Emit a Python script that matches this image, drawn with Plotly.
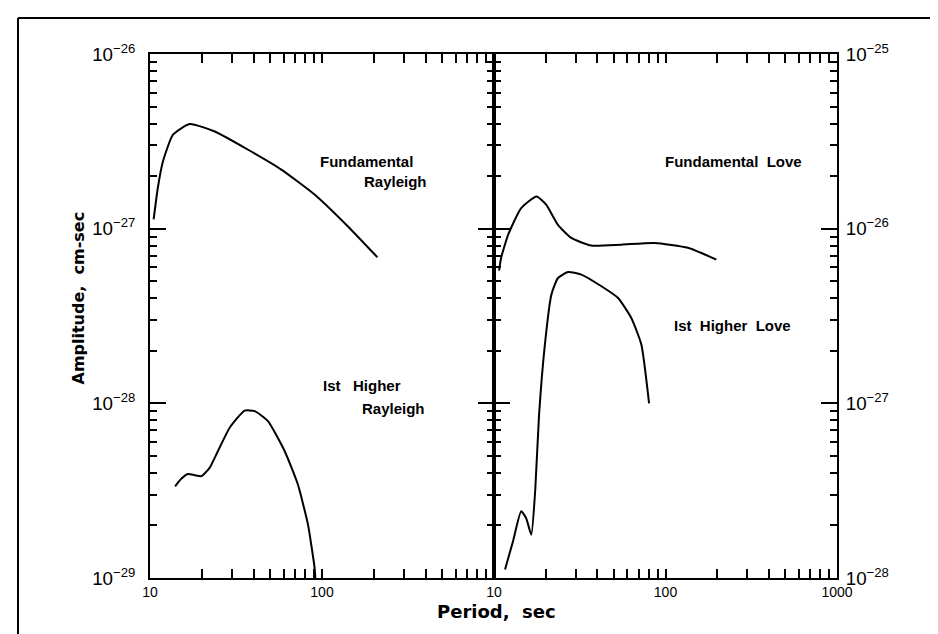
import plotly.graph_objects as go

# ---- data (period in sec, amplitude in cm-sec) ----
fr_period = [10.5, 11.1, 11.9, 13.6, 17.0, 23.8, 37.2, 58, 90.5, 141.6, 210]
fr_amp = [1.13e-27, 1.71e-27, 2.43e-27, 3.45e-27, 3.97e-27, 3.6e-27, 2.83e-27,
          2.18e-27, 1.57e-27, 1.03e-27, 6.86e-28]

hr_period = [14.0, 15.2, 16.6, 18.2, 19.9, 22.2, 24.8, 29.0, 35.5, 40.6, 48.5,
             60.7, 72.4, 82.9, 90.6, 91.5]
hr_amp = [3.35e-29, 3.7e-29, 3.94e-29, 3.88e-29, 3.83e-29, 4.27e-29, 5.32e-29,
          7.23e-29, 9.08e-29, 9.02e-29, 7.9e-29, 5.32e-29, 3.43e-29, 2.02e-29,
          1.14e-29, 1.0e-29]

fl_period = [10.7, 11.0, 12.1, 14.4, 17.7, 20.2, 23.6, 28.2, 36.9, 55.2, 86.4,
             135, 198]
fl_amp = [5.75e-27, 6.8e-27, 9.25e-27, 1.31e-26, 1.53e-26, 1.37e-26, 1.05e-26,
          8.85e-27, 8.0e-27, 8.1e-27, 8.28e-27, 7.77e-27, 6.65e-27]

hl_period = [11.6, 12.9, 14.4, 15.4, 16.5, 17.4, 18.3, 19.8, 21.6, 23.6,
             27.0, 32.3, 42.3, 52.9, 63.2, 72.3, 80.2]
hl_amp = [1.12e-28, 1.62e-28, 2.41e-28, 2.2e-28, 1.77e-28, 3.2e-28, 8.5e-28,
          2.17e-27, 4.19e-27, 5.22e-27, 5.65e-27, 5.46e-27, 4.68e-27,
          4.01e-27, 3.08e-27, 2.17e-27, 1.0e-27]

# x ticks: every 1..9 x decade; only decades are labelled
x_tick_vals = [10, 20, 30, 40, 50, 60, 70, 80, 90,
               100, 200, 300, 400, 500, 600, 700, 800, 900, 1000]
x_tick_text_left = ["10", "", "", "", "", "", "", "", "",
                    "100", "", "", "", "", "", "", "", "", ""]
x_tick_text_right = ["10", "", "", "", "", "", "", "", "",
                     "100", "", "", "", "", "", "", "", "", "1000"]

# ---- figure ----
OFF = 0
W, H = 938, 634
# plot-area edges in page pixels
L, R, T, B = 142, 829, 46, 570
split = 486
fig = go.Figure()

line = dict(color="black", width=2, shape="spline", smoothing=0.5)
fig.add_trace(go.Scatter(x=fr_period, y=fr_amp, mode="lines", line=line,
                         xaxis="x", yaxis="y", showlegend=False))
fig.add_trace(go.Scatter(x=hr_period, y=hr_amp, mode="lines", line=line,
                         xaxis="x", yaxis="y", showlegend=False))
fig.add_trace(go.Scatter(x=fl_period, y=fl_amp, mode="lines", line=line,
                         xaxis="x2", yaxis="y2", showlegend=False))
fig.add_trace(go.Scatter(x=hl_period, y=hl_amp, mode="lines", line=line,
                         xaxis="x2", yaxis="y2", showlegend=False))

d = (split - L) / (R - L)
tickfont = dict(family="Liberation Sans", size=14, color="black")
xcommon = dict(type="log", range=[1, 3], tickmode="array", tickvals=x_tick_vals,
               ticks="inside", ticklen=9, tickwidth=2, tickcolor="black",
               showline=True, linecolor="black", linewidth=1.5, mirror="ticks",
               showgrid=False, zeroline=False, tickfont=tickfont)
ycommon = dict(type="log", dtick=1, ticks="inside", ticklen=16, tickwidth=1.5,
               tickcolor="black",
               showline=True, linecolor="black", linewidth=1.5, mirror="ticks",
               showgrid=False, zeroline=False, exponentformat="power",
               tickfont=dict(family="Liberation Sans", size=15, color="black"),
               minor=dict(ticks="inside", ticklen=7, tickwidth=1.5, showgrid=False))

fig.update_layout(
    width=W, height=H,
    margin=dict(l=L - OFF, r=W - (R - OFF), t=T - OFF, b=H - (B - OFF)),
    paper_bgcolor="white", plot_bgcolor="white",
    xaxis=dict(domain=[0, d], anchor="y", ticktext=x_tick_text_left, **xcommon),
    xaxis2=dict(domain=[d, 1], anchor="y2", ticktext=x_tick_text_right, **xcommon),
    yaxis=dict(domain=[0, 1], anchor="x", range=[-29, -26], side="left",
               ticklabelstandoff=10, **ycommon),
    yaxis2=dict(domain=[0, 1], anchor="x2", range=[-28, -25], side="right",
                ticklabelstandoff=4, **ycommon),
)


def px(x):
    return (x - L) / (R - L)


def py(y):
    return (B - y) / (B - T)


afont = dict(family="Liberation Sans", size=15, color="black")
notes = [
    ("<b>Fundamental</b>", 358, 153),
    ("<b>Rayleigh</b>", 387, 173),
    ("<b>Ist\u00a0\u00a0\u00a0Higher</b>", 354, 377),
    ("<b>Rayleigh</b>", 385, 400),
    ("<b>Fundamental\u00a0\u00a0Love</b>", 725, 153),
    ("<b>Ist\u00a0\u00a0Higher\u00a0\u00a0Love</b>", 724, 317),
]
for text, x, y in notes:
    fig.add_annotation(text=text, xref="paper", yref="paper", x=px(x), y=py(y),
                       showarrow=False, font=afont, xanchor="center", yanchor="middle")

fig.add_annotation(text="<b>Amplitude,\u00a0\u00a0cm-sec</b>", xref="paper", yref="paper",
                   x=px(58), y=py(290), textangle=-90, showarrow=False,
                   font=dict(family="DejaVu Sans", size=16, color="black"))
fig.add_annotation(text="<b>Period,\u00a0\u00a0sec</b>", xref="paper", yref="paper",
                   x=px(488), y=py(616), showarrow=False,
                   font=dict(family="DejaVu Sans", size=18, color="black"))

# outer frame (left and top edges)
fig.add_shape(type="line", xref="paper", yref="paper", x0=px(10), x1=px(10),
              y0=py(10), y1=py(636), line=dict(color="black", width=2))
fig.add_shape(type="line", xref="paper", yref="paper", x0=px(10), x1=px(940),
              y0=py(10), y1=py(10), line=dict(color="black", width=2))

fig.write_html("out.html")
